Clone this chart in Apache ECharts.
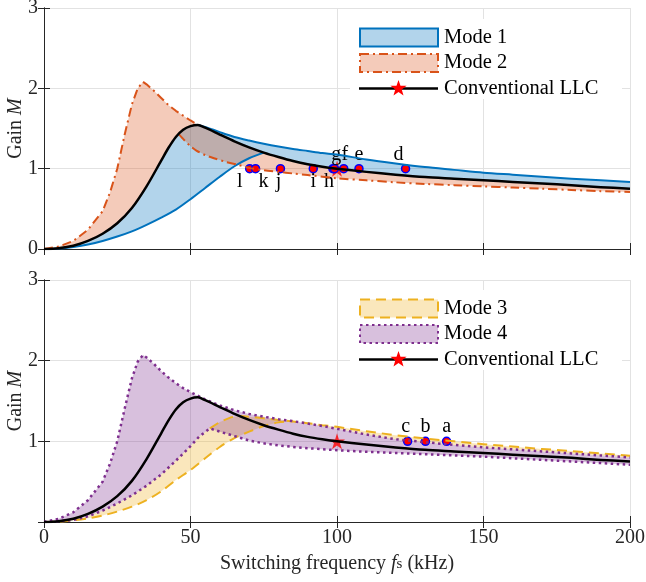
<!DOCTYPE html>
<html><head><meta charset="utf-8">
<script src="https://cdn.jsdelivr.net/npm/echarts@6/dist/echarts.min.js"></script>
<style>html,body{margin:0;padding:0;background:#fff}#c{width:646px;height:582px}</style>
</head><body><div id="c"></div>
<script>
// ---- data ----
const xTicks = [0, 50, 100, 150, 200];
const yTicks = [0, 1, 2, 3];
// Conventional LLC (black)
const fBlack = [0,5,10,15,20,25,30,35,40,42.5,45,47.5,50,52.5,55,60,65,70,75,80,85,90,95,100,110,120,130,140,150,160,170,180,190,200];
const mBlack = [0,0.01,0.04,0.1,0.19,0.32,0.51,0.78,1.1,1.26,1.395,1.485,1.53,1.545,1.51,1.425,1.34,1.265,1.2,1.145,1.095,1.055,1.025,1.0,0.96,0.925,0.895,0.875,0.855,0.835,0.815,0.795,0.77,0.75];
// Mode 1 (blue)
const fBlueLow = [0,5,10,15,20,25,30,35,40,45,50,55,60,65,70,75];
const mBlueLow = [0,0.006,0.025,0.055,0.1,0.155,0.22,0.3,0.39,0.49,0.62,0.76,0.9,1.03,1.13,1.2];
const fBlueUp = [52.5,55,60,65,70,75,80,85,90,95,100,110,120,130,140,150,160,170,180,190,200];
const mBlueUp = [1.545,1.52,1.455,1.395,1.35,1.31,1.275,1.245,1.22,1.195,1.175,1.115,1.065,1.02,0.985,0.95,0.925,0.9,0.875,0.855,0.835];
// Mode 2 (orange)
const fOrUp = [0,5,10,15,20,22.5,25,27.5,30,32,33.8,35,37.5,40,42.5,45,47.5,50,52.5];
const mOrUp = [0,0.03,0.1,0.24,0.47,0.7,1.0,1.42,1.8,2.0,2.08,2.05,1.97,1.88,1.79,1.72,1.66,1.6,1.545];
const fOrLow = [46,48,50,52,55,58,62,66,70,75,80,85,90,100,110,120,130,140,150,160,170,180,190,200];
const mOrLow = [1.43,1.35,1.28,1.225,1.17,1.13,1.085,1.05,1.01,0.98,0.96,0.94,0.92,0.88,0.855,0.83,0.81,0.795,0.78,0.765,0.75,0.735,0.72,0.71];
// Mode 3 (yellow)
const fYelLow = [0,5,10,15,20,25,30,35,40,45,50,55,60,65,70,75,80,85];
const mYelLow = [0,0.005,0.02,0.045,0.08,0.13,0.19,0.27,0.38,0.52,0.645,0.79,0.93,1.04,1.12,1.19,1.235,1.25];
const fYelUp = [56.6,60,64,67,70,75,80,85,90,95,100,110,120,130,140,150,160,170,180,190,200];
const mYelUp = [1.16,1.24,1.3,1.315,1.305,1.285,1.265,1.245,1.225,1.2,1.18,1.125,1.075,1.035,1.0,0.965,0.935,0.905,0.88,0.85,0.82];
// Mode 4 (purple)
const fPurUp = [0,5,10,15,20,22.5,25,27.5,30,32,33.8,35,37.5,40,42.5,45,47.5,50,55,60,65,70,75,80,85,90,95,100,110,120,130,140,150,160,170,180,190,200];
const mPurUp = [0,0.04,0.12,0.27,0.5,0.72,1.0,1.4,1.78,1.99,2.07,2.04,1.96,1.87,1.79,1.72,1.66,1.61,1.52,1.445,1.385,1.34,1.305,1.275,1.25,1.22,1.19,1.155,1.085,1.025,0.99,0.955,0.925,0.9,0.875,0.85,0.825,0.8];
const fPurLow = [0,5,10,15,20,25,30,35,40,45,50,53,56.6,60,65,70,75,80,85,90,100,110,120,130,140,150,160,170,180,190,200];
const mPurLow = [0,0.008,0.025,0.07,0.14,0.23,0.33,0.45,0.59,0.76,0.94,1.06,1.16,1.12,1.065,1.01,0.975,0.95,0.93,0.915,0.89,0.87,0.855,0.84,0.825,0.81,0.79,0.77,0.75,0.73,0.71];
// operating points
const topPtF = [70.2,72.2,80.7,91.9,98.6,99.1,102.3,107.5,123.4];
const topPtM = [1,1,1,1,1,1,1,1,1];
const topPtLbl = ['l','k','j','i','h','g','f','e','d'];
const botPtF = [124.1,130.2,137.4];
const botPtM = [1,1,1];
const botPtLbl = ['c','b','a'];
const starF = [100];
const starM = [1];

// ---- styling ----
const FONT = "'Liberation Serif','Times New Roman',serif";
const TXT = '#262626';
const BLUE='#0072BD', ORANGE='#D95319', YELLOW='#EDB120', PURPLE='#7E2F8E';
const fillA = c => { const n=parseInt(c.slice(1),16); return `rgba(${n>>16},${(n>>8)&255},${n&255},0.3)`; };
const STAR = 'path://M50,0 L61.2,34.5 L97.6,34.5 L68.2,55.9 L79.4,90.5 L50,69.1 L20.6,90.5 L31.8,55.9 L2.4,34.5 L38.8,34.5 Z';
const labelOff = {l:[-10,13],k:[8,13],j:[-2,13],i:[0,13],h:[-4,13],g:[2,-14],f:[1,-14],e:[0,-14],d:[-7,-14],c:[-2,-15],b:[0,-15],a:[0,-15]};

const P = (f,m) => f.map((x,i)=>[x,m[i]]);
const black = P(fBlack,mBlack);
const PU = P(fPurUp,mPurUp), PL = P(fPurLow,mPurLow);

const poly1 = [...P(fBlueLow,mBlueLow), ...black.filter(p=>p[0]>75), ...P(fBlueUp,mBlueUp).reverse(), ...black.filter(p=>p[0]<52.5).reverse()];
const poly2 = [...P(fOrUp,mOrUp), ...black.filter(p=>p[0]>52.5), ...P(fOrLow,mOrLow).reverse(), ...black.filter(p=>p[0]<46).reverse()];
const poly3 = [...P(fYelLow,mYelLow), ...PU.filter(p=>p[0]>85), ...P(fYelUp,mYelUp).reverse(), ...PL.filter(p=>p[0]<56.6).reverse()];
const poly4 = [...PU, ...PL.slice().reverse()];

function polySeries(idx, pts, color){
  return {type:'custom', xAxisIndex:idx, yAxisIndex:idx, data:[[0,0]], silent:true, clip:true,
    renderItem:(params, api)=>({type:'polygon', shape:{points:pts.map(p=>api.coord(p))}, style:{fill:fillA(color), stroke:null}})};
}
function lineSeries(idx, data, color, width, type, smooth){
  return {type:'line', xAxisIndex:idx, yAxisIndex:idx, data, symbol:'none', silent:true, animation:false, smooth:smooth||false,
    lineStyle:{color, width, type, cap:'butt', join:'round'}};
}
function ptSeries(idx, f, m, lbl){
  return {type:'scatter', xAxisIndex:idx, yAxisIndex:idx, symbol:'circle', symbolSize:8, silent:true,
    itemStyle:{color:'#ff0000', borderColor:'#0000ff', borderWidth:1.5, opacity:1},
    data:f.map((x,i)=>({value:[x,m[i]], label:{show:true, formatter:lbl[i], position:'inside', offset:labelOff[lbl[i]],
      fontFamily:FONT, fontSize:20, color:'#000', align:'center', verticalAlign:'middle'}}))};
}
function starSeries(idx){
  return {type:'scatter', xAxisIndex:idx, yAxisIndex:idx, symbol:STAR, symbolSize:16, silent:true,
    itemStyle:{color:'#ff0000'}, data:P(starF,starM)};
}

const gridDefs = [
  {left:44, right:16, top:8, height:241, containLabel:false, outerBoundsMode:'none'},
  {left:44, right:16, top:280, height:242, containLabel:false, outerBoundsMode:'none'}];
const axLine = {show:true, lineStyle:{color:TXT, width:1}};
const tick = {show:true, inside:true, length:6, lineStyle:{color:TXT, width:1}};
const split = {show:true, lineStyle:{color:'#e2e2e2', width:1}};

const xAxes = [], yAxes = [];
[0,1].forEach(g=>{
  xAxes.push({type:'value', gridIndex:g, min:xTicks[0], max:xTicks[xTicks.length-1], interval:50, position:'bottom',
    axisLine:axLine, axisTick:tick, splitLine:split,
    axisLabel:{show:g===1, fontFamily:FONT, fontSize:20, color:TXT, margin:6},
    name: g===1 ? 'Switching frequency {i|f}{s|s} (kHz)' : '', nameLocation:'middle', nameGap:32,
    nameTextStyle:{fontFamily:FONT, fontSize:20, color:TXT, rich:{i:{fontFamily:FONT,fontSize:20,fontStyle:'italic',color:TXT}, s:{fontFamily:FONT,fontSize:15,color:TXT}}}});
  yAxes.push({type:'value', gridIndex:g, min:yTicks[0], max:yTicks[yTicks.length-1], interval:1, position:'left',
    axisLine:axLine, axisTick:tick, splitLine:split,
    axisLabel:{fontFamily:FONT, fontSize:20, color:TXT, margin:6, formatter:v=> (g===1 && v===0) ? '' : String(v)},
    name:'Gain {i|M}', nameLocation:'middle', nameGap:18, nameMoveOverlap:false,
    nameTextStyle:{fontFamily:FONT, fontSize:20, color:TXT, rich:{i:{fontFamily:FONT,fontSize:20,fontStyle:'italic',color:TXT}}}});
});
// box axes (top/right ticks)
[0,1].forEach(g=>{
  xAxes.push({type:'value', gridIndex:g, min:0, max:200, interval:50, position:'top', axisLine:axLine, axisTick:tick, splitLine:{show:false}, axisLabel:{show:false}});
  yAxes.push({type:'value', gridIndex:g, min:0, max:3, interval:1, position:'right', axisLine:axLine, axisTick:tick, splitLine:{show:false}, axisLabel:{show:false}});
});

const DASHDOT=[9,4,2,4], DASH=[10,6], DOT=[2.5,3.5];
const series = [
  polySeries(0, poly1, BLUE),
  lineSeries(0, P(fBlueLow,mBlueLow), BLUE, 2, 'solid', 0.3),
  lineSeries(0, P(fBlueUp,mBlueUp), BLUE, 2, 'solid', 0.3),
  polySeries(0, poly2, ORANGE),
  lineSeries(0, P(fOrUp,mOrUp), ORANGE, 2, DASHDOT),
  lineSeries(0, P(fOrLow,mOrLow), ORANGE, 2, DASHDOT, 0.3),
  lineSeries(0, black, '#000', 2.5, 'solid', 0.3),
  starSeries(0),
  ptSeries(0, topPtF, topPtM, topPtLbl),
  polySeries(1, poly3, YELLOW),
  lineSeries(1, P(fYelLow,mYelLow), YELLOW, 2, DASH, 0.3),
  lineSeries(1, P(fYelUp,mYelUp), YELLOW, 2, DASH),
  polySeries(1, poly4, PURPLE),
  lineSeries(1, PU, PURPLE, 2.5, DOT),
  lineSeries(1, PL, PURPLE, 2.5, DOT),
  lineSeries(1, black, '#000', 2.5, 'solid', 0.3),
  ptSeries(1, botPtF, botPtM, botPtLbl),
  starSeries(1)
];

function starPts(cx, cy, r){
  const a=[]; for(let k=0;k<10;k++){const rr=k%2?r*0.4:r; const t=-Math.PI/2+k*Math.PI/5; a.push([cx+rr*Math.cos(t), cy+rr*Math.sin(t)]);} return a;
}
function legend(y0, bgTop, bgBot, items){
  const els=[{type:'rect', shape:{x:350, y:bgTop, width:272, height:bgBot-bgTop}, style:{fill:'#fff'}, z:50}];
  items.forEach((it,k)=>{
    const cy = y0 + k*25.5;
    if(it.patch){
      els.push({type:'rect', z:51, shape:{x:360, y:cy-9, width:78, height:18}, style:{fill:fillA(it.color), stroke:it.color, lineWidth:2, lineDash:it.dash||null}});
    } else {
      els.push({type:'line', z:51, shape:{x1:359, y1:cy, x2:438, y2:cy}, style:{stroke:'#000', lineWidth:2.5}});
      els.push({type:'polygon', z:52, shape:{points:starPts(398.5, cy, 8.5)}, style:{fill:'#ff0000'}});
    }
    els.push({type:'text', z:51, x:444, y:cy, style:{text:it.name, font:`20.5px ${FONT}`, fill:'#000', textVerticalAlign:'middle', verticalAlign:'middle'}});
  });
  return els;
}
const graphic = [
  ...legend(37.5, 19, 99, [{name:'Mode 1', patch:true, color:BLUE},{name:'Mode 2', patch:true, color:ORANGE, dash:DASHDOT},{name:'Conventional LLC'}]),
  ...legend(308.5, 290, 370, [{name:'Mode 3', patch:true, color:YELLOW, dash:DASH},{name:'Mode 4', patch:true, color:PURPLE, dash:DOT},{name:'Conventional LLC'}])
];

const chart = echarts.init(document.getElementById('c'), null, {renderer:'canvas'});
chart.setOption({animation:false, backgroundColor:'#fff', grid:gridDefs, xAxis:xAxes, yAxis:yAxes, series, graphic});
</script></body></html>
